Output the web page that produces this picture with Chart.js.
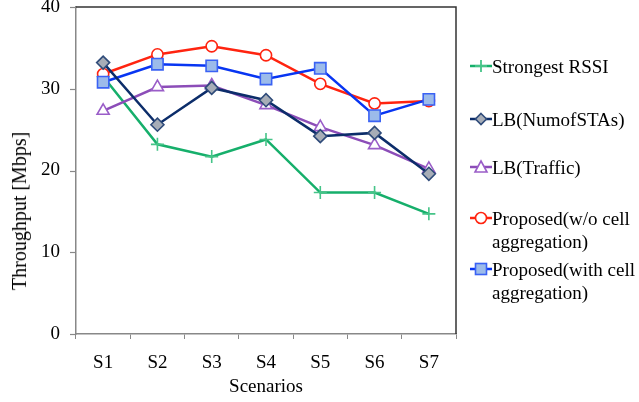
<!DOCTYPE html>
<html><head><meta charset="utf-8">
<script src="https://cdn.jsdelivr.net/npm/chart.js@4.4.0/dist/chart.umd.min.js"></script>
<style>
html,body{margin:0;padding:0;background:#fff;}
#wrap{position:relative;width:639px;height:402px;overflow:hidden;}
#legend{position:absolute;left:470px;top:0;font-family:"Liberation Serif",serif;font-size:19px;color:#000;}
.item{position:absolute;left:0;display:flex;align-items:flex-start;white-space:nowrap;line-height:23px;}
.item svg{flex:none;margin-top:1px;}
#ytitle{position:absolute;left:18.5px;top:211px;transform:translate(-50%,-50%) rotate(-90deg);font-family:"Liberation Serif",serif;font-size:20px;white-space:nowrap;color:#000;line-height:24px;}
</style></head>
<body><div id="wrap"><canvas id="c" width="639" height="402"></canvas><div id="ytitle">Throughput [Mbps]</div><div id="legend"></div></div>
<script>
const categories = ["S1","S2","S3","S4","S5","S6","S7"];
const strongestRSSI = [31.5, 23.2, 21.7, 23.8, 17.3, 17.3, 14.7];
const lbNumSTAs = [33.2, 25.6, 30.1, 28.6, 24.2, 24.6, 19.6];
const lbTraffic = [27.3, 30.2, 30.4, 28.0, 25.3, 23.1, 20.2];
const proposedWo = [31.8, 34.2, 35.2, 34.1, 30.6, 28.2, 28.5];
const proposedWith = [30.8, 33.0, 32.8, 31.2, 32.5, 26.7, 28.7];
const yTicks = [0, 10, 20, 30, 40];
const seriesNames = ["Strongest RSSI","LB(NumofSTAs)","LB(Traffic)","Proposed(w/o cell aggregation)","Proposed(with cell aggregation)"];

const FONT = "Liberation Serif";
const styles = [
  {line:"#16AF6B", fill:"#16AF6B", border:"#45C488", shape:"cross", r:6.5},
  {line:"#0C2D6A", fill:"#A7ADB7", border:"#2F4B7A", shape:"rectRot", r:6.5},
  {line:"#8C4DB8", fill:"#FFFFFF", border:"#9A5DC8", shape:"triangle", r:7},
  {line:"#FF2410", fill:"#FFFFFF", border:"#FF2410", shape:"circle", r:5.6},
  {line:"#0835F2", fill:"#9CBBEA", border:"#3A62F4", shape:"rect", r:8}
];
const values = [strongestRSSI, lbNumSTAs, lbTraffic, proposedWo, proposedWith];
const orders = [5, 1, 3, 4, 2];

const datasets = values.map((v,i)=>({
  label: seriesNames[i], data: v,
  borderColor: styles[i].line, borderWidth: 2.5,
  pointStyle: styles[i].shape, pointRadius: styles[i].r, pointHoverRadius: styles[i].r,
  pointBackgroundColor: styles[i].fill, pointBorderColor: styles[i].border, pointBorderWidth: 1.6,
  tension: 0, fill: false, order: orders[i]
}));

const frame = {
  id:'frame',
  afterDatasetsDraw(chart){
    const {ctx, chartArea:a} = chart;
    const ys = chart.scales.y;
    ctx.save();
    ctx.strokeStyle = "#888"; ctx.lineWidth = 1.2;
    ys.ticks.forEach(t=>{
      const py = Math.round(ys.getPixelForValue(t.value)) + 0.5;
      ctx.beginPath(); ctx.moveTo(a.left - 6, py); ctx.lineTo(a.left, py); ctx.stroke();
    });
    ctx.strokeStyle = "#333"; ctx.lineWidth = 1.5;
    ctx.beginPath(); ctx.moveTo(a.left, a.top); ctx.lineTo(a.right, a.top); ctx.lineTo(a.right, a.bottom); ctx.stroke();
    ctx.restore();
  }
};

new Chart(document.getElementById('c'), {
  type:'line',
  data:{labels:categories, datasets},
  options:{
    responsive:false, animation:false, devicePixelRatio:1,
    layout:{autoPadding:false, padding:{top:7, right:183, left:41, bottom:3.6}},
    plugins:{legend:{display:false}, tooltip:{enabled:false}},
    scales:{
      x:{
        offset:true,
        grid:{display:true, offset:true, drawOnChartArea:false, drawTicks:true, tickLength:5, color:"#888"},
        border:{color:"#888", width:1.5},
        ticks:{color:"#000", font:{family:FONT, size:19}, padding:12.6},
        title:{display:true, text:"Scenarios", color:"#000", font:{family:FONT, size:19}, padding:{top:-11.4,bottom:0}}
      },
      y:{
        min:0, max:40,
        afterBuildTicks(s){ s.ticks = yTicks.map(v=>({value:v})); },
        grid:{display:true, drawOnChartArea:false, drawTicks:true, tickLength:16, tickColor:"rgba(0,0,0,0)", color:"#888"},
        border:{color:"#888", width:1.5},
        ticks:{color:"#000", font:{family:FONT, size:19, lineHeight:0.4}, padding:0},
        title:{display:false}
      }
    }
  },
  plugins:[frame]
});

// legend (HTML, real text)
const legendTops = [55, 108, 156, 207, 258];
const lg = document.getElementById('legend');
seriesNames.forEach((name,i)=>{
  const s = styles[i];
  let mk = "";
  if(s.shape==="cross") mk = `<path d="M11 4 V16 M5 10 H17" stroke="${s.border}" stroke-width="1.8"/>`;
  else if(s.shape==="rectRot") mk = `<path d="M11 4.5 L16.5 10 L11 15.5 L5.5 10 Z" fill="${s.fill}" stroke="${s.border}" stroke-width="1.6"/>`;
  else if(s.shape==="triangle") mk = `<path d="M11 4 L17 15 L5 15 Z" fill="${s.fill}" stroke="${s.border}" stroke-width="1.6"/>`;
  else if(s.shape==="circle") mk = `<circle cx="11" cy="10" r="5.5" fill="${s.fill}" stroke="${s.border}" stroke-width="1.6"/>`;
  else mk = `<rect x="5.5" y="4.5" width="11" height="11" fill="${s.fill}" stroke="${s.border}" stroke-width="1.6"/>`;
  const svg = `<svg width="22" height="20" viewBox="0 0 22 20"><line x1="0" y1="10" x2="22" y2="10" stroke="${s.line}" stroke-width="2.5"/>${mk}</svg>`;
  const txt = name.replace(" cell aggregation)", " cell<br>aggregation)");
  const d = document.createElement('div');
  d.className = 'item'; d.style.top = legendTops[i] + 'px';
  d.innerHTML = svg + `<span style="margin-left:0px">${txt}</span>`;
  lg.appendChild(d);
});
</script></body></html>
